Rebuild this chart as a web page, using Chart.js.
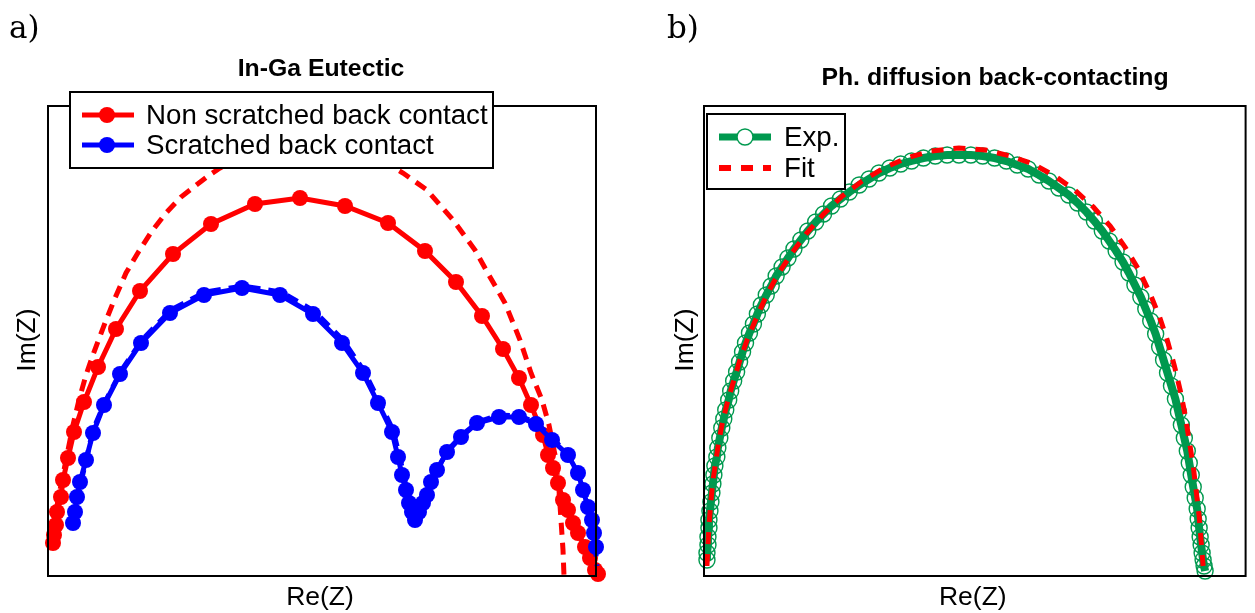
<!DOCTYPE html>
<html>
<head>
<meta charset="utf-8">
<script src="https://cdn.jsdelivr.net/npm/chart.js@4.4.1/dist/chart.umd.min.js"></script>
<style>
  body { margin: 0; background: #fff; width: 1255px; height: 613px; overflow: hidden; }
  canvas { position: absolute; top: 0; }
  #chartA { left: 0; }
  #chartB { left: 640px; }
</style>
</head>
<body>
<canvas id="chartA" width="640" height="613"></canvas>
<canvas id="chartB" width="615" height="613"></canvas>
<script>
// a) In-Ga eutectic, Nyquist plot (arbitrary units, no ticks in the original)
const nonScratchedRe = [5, 6, 8, 9, 13, 15, 20, 26, 36, 50, 68, 92, 125, 163, 207, 252, 297, 340, 377, 408, 434, 455, 471, 483, 495, 500, 505, 510, 515, 520, 525, 530, 537, 542, 547, 550];
const nonScratchedIm = [33, 41, 51, 64, 79, 96, 118, 144, 174, 209, 247, 285, 322, 352, 372, 378, 370, 353, 325, 294, 260, 227, 198, 171, 141, 121, 108, 93, 76, 66, 53, 43, 29, 18, 6, 2];

const nonScratchedFitRe = [2, 6, 10, 15, 20, 25, 31, 38, 46, 57, 67, 78, 91, 104, 118, 133, 147, 160, 172, 197, 227, 257, 287, 317, 340, 355, 379, 405, 427, 442, 457, 472, 483, 494, 501, 507, 511, 513, 515, 516];
const nonScratchedFitIm = [28, 51, 76, 101, 126, 151, 176, 201, 224, 253, 278, 303, 325, 345, 363, 379, 390, 400, 408, 423, 432, 435, 432, 423, 412, 403, 386, 356, 326, 299, 273, 236, 203, 176, 151, 121, 86, 56, 26, 0];

const scratchedRe = [25, 27, 29, 32, 38, 45, 56, 72, 93, 122, 156, 194, 232, 265, 294, 315, 330, 344, 350, 354, 358, 361, 364, 367, 371, 375, 379, 383, 389, 399, 413, 429, 451, 471, 488, 504, 520, 530, 535, 540, 544, 546, 548, 549, 549];
const scratchedIm = [53, 64, 79, 94, 116, 143, 171, 202, 233, 263, 281, 288, 281, 262, 233, 203, 173, 144, 119, 101, 86, 73, 64, 56, 64, 73, 81, 94, 106, 124, 139, 153, 159, 159, 152, 136, 121, 103, 86, 69, 56, 43, 29, 16, 9];

const scratchedFitRe = [26, 34, 45, 57, 73, 94, 123, 157, 195, 233, 266, 295, 316, 331, 345, 352, 358, 363, 367, 372, 380, 390, 400, 414, 430, 451, 472, 489, 505, 521, 531, 541, 546, 549];
const scratchedFitIm = [55, 98, 146, 174, 205, 236, 266, 284, 290, 284, 265, 236, 205, 175, 146, 118, 90, 70, 60, 70, 86, 108, 126, 141, 154, 161, 160, 153, 137, 121, 104, 70, 43, 10];

// b) Ph. diffusion back-contacting
const expRe = [3, 3, 4, 4, 5, 5, 6, 7, 8, 9, 10, 11, 13, 14, 16, 18, 20, 22, 25, 27, 30, 33, 36, 39, 42, 46, 50, 54, 58, 63, 68, 73, 79, 85, 91, 98, 105, 113, 121, 129, 138, 147, 157, 167, 177, 188, 199, 210, 222, 234, 246, 258, 270, 282, 294, 306, 317, 328, 339, 349, 359, 369, 378, 387, 395, 403, 410, 417, 424, 430, 436, 442, 447, 452, 457, 461, 465, 469, 473, 477, 480, 483, 486, 489, 491, 493, 495, 497, 499, 500, 501, 502, 503, 504, 505, 506, 507];
const expIm = [16, 23, 31, 39, 48, 56, 65, 74, 83, 92, 101, 110, 119, 128, 138, 148, 157, 166, 176, 185, 195, 204, 214, 224, 233, 243, 252, 262, 271, 281, 290, 300, 309, 318, 327, 336, 345, 354, 362, 370, 377, 384, 391, 397, 403, 408, 412, 415, 418, 420, 421, 421, 421, 420, 418, 415, 411, 407, 401, 395, 388, 381, 373, 364, 355, 345, 335, 325, 314, 303, 291, 279, 267, 255, 242, 229, 216, 203, 190, 177, 164, 151, 138, 125, 113, 101, 89, 78, 67, 57, 48, 39, 31, 23, 16, 10, 5];

const fitRe = [3, 4, 5, 7, 9, 12, 15, 19, 24, 30, 36, 44, 53, 63, 75, 89, 104, 121, 140, 160, 182, 205, 230, 258, 285, 310, 333, 355, 375, 394, 411, 426, 440, 451, 461, 469, 476, 482, 487, 491, 495, 498, 501, 503, 505];
const fitIm = [10, 30, 50, 75, 95, 115, 135, 155, 175, 195, 215, 237, 258, 280, 302, 323, 343, 362, 380, 395, 408, 418, 425, 428, 426, 420, 412, 400, 386, 369, 350, 329, 306, 283, 259, 235, 210, 185, 160, 135, 110, 85, 60, 35, 10];

const RED = '#ff0000';
const BLUE = '#0000ff';
const GREEN = '#00994f';
const SANS = '"Liberation Sans", Arial, Helvetica, sans-serif';

function pairs(xs, ys) {
  return xs.map((x, i) => ({ x: x, y: ys[i] }));
}

// frame, titles, panel letter, axis names and the legend box are drawn here
const panelDecor = {
  id: 'panelDecor',
  afterDraw(chart, args, opts) {
    const ctx = chart.ctx;
    const area = chart.chartArea;
    ctx.save();

    ctx.strokeStyle = '#000';
    ctx.lineWidth = 2;
    ctx.strokeRect(area.left, area.top, area.right - area.left, area.bottom - area.top);

    ctx.fillStyle = '#000';
    ctx.font = '31px "DejaVu Serif", serif';
    ctx.textAlign = 'left';
    ctx.textBaseline = 'alphabetic';
    ctx.fillText(opts.letter, opts.letterX, 38);

    const midX = (area.left + area.right) / 2;
    ctx.font = 'bold 24.8px ' + SANS;
    ctx.textAlign = 'center';
    ctx.fillText(opts.title, opts.titleX, opts.titleY);

    ctx.font = '26.5px ' + SANS;
    ctx.fillText('Re(Z)', midX - 2, 605);

    ctx.save();
    ctx.translate(opts.imX, 340);
    ctx.rotate(-Math.PI / 2);
    ctx.textBaseline = 'middle';
    ctx.fillText('Im(Z)', 0, 0);
    ctx.restore();

    const lg = opts.legend;
    ctx.fillStyle = '#fff';
    ctx.fillRect(lg.x, lg.y, lg.w, lg.h);
    ctx.lineWidth = 2;
    ctx.strokeStyle = '#000';
    ctx.strokeRect(lg.x, lg.y, lg.w, lg.h);

    lg.items.forEach((item, i) => {
      const y = lg.firstY + i * lg.step;
      ctx.strokeStyle = item.color;
      ctx.lineWidth = item.width;
      ctx.setLineDash(item.dash || []);
      ctx.beginPath();
      ctx.moveTo(lg.x + 12, y);
      ctx.lineTo(lg.x + 64, y);
      ctx.stroke();
      ctx.setLineDash([]);
      if (item.marker === 'filled') {
        ctx.fillStyle = item.color;
        ctx.beginPath();
        ctx.arc(lg.x + 37, y, 8, 0, Math.PI * 2);
        ctx.fill();
      } else if (item.marker === 'open') {
        ctx.fillStyle = '#fff';
        ctx.lineWidth = 1.5;
        ctx.beginPath();
        ctx.arc(lg.x + 38, y, 8, 0, Math.PI * 2);
        ctx.fill();
        ctx.stroke();
      }
      ctx.fillStyle = '#000';
      ctx.font = '27.7px ' + SANS;
      ctx.textAlign = 'left';
      ctx.textBaseline = 'alphabetic';
      ctx.fillText(item.label, lg.textX, y + 9);
    });

    ctx.restore();
  }
};

function baseOptions(pad, decor) {
  return {
    responsive: false,
    animation: false,
    devicePixelRatio: 1,
    layout: { padding: pad },
    scales: {
      x: { type: 'linear', display: false, min: 0, max: 548 },
      y: { type: 'linear', display: false, min: 0, max: 470 }
    },
    plugins: {
      legend: { display: false },
      tooltip: { enabled: false },
      panelDecor: decor
    }
  };
}

new Chart(document.getElementById('chartA'), {
  type: 'scatter',
  plugins: [panelDecor],
  data: {
    datasets: [
      {
        label: 'Scratched back contact',
        data: pairs(scratchedRe, scratchedIm),
        showLine: true,
        borderColor: BLUE,
        backgroundColor: BLUE,
        borderWidth: 5,
        pointRadius: 8,
        pointBorderWidth: 0,
        clip: false,
        order: 1
      },
      {
        label: 'Scratched fit',
        data: pairs(scratchedFitRe, scratchedFitIm),
        showLine: true,
        borderColor: BLUE,
        borderWidth: 5,
        borderDash: [12, 8],
        pointRadius: 0,
        clip: false,
        order: 2
      },
      {
        label: 'Non scratched back contact',
        data: pairs(nonScratchedRe, nonScratchedIm),
        showLine: true,
        borderColor: RED,
        backgroundColor: RED,
        borderWidth: 5,
        pointRadius: 8,
        pointBorderWidth: 0,
        clip: false,
        order: 3
      },
      {
        label: 'Non scratched fit',
        data: pairs(nonScratchedFitRe, nonScratchedFitIm),
        showLine: true,
        borderColor: RED,
        borderWidth: 5,
        borderDash: [12, 8],
        pointRadius: 0,
        clip: false,
        order: 4
      }
    ]
  },
  options: baseOptions({ left: 48, right: 44, top: 106, bottom: 37 }, {
    letter: 'a)',
    letterX: 9,
    title: 'In-Ga Eutectic',
    titleX: 321,
    titleY: 76,
    imX: 28,
    legend: {
      x: 70, y: 92, w: 423, h: 76,
      firstY: 115, step: 30, textX: 146,
      items: [
        { label: 'Non scratched back contact', color: RED, width: 5, marker: 'filled' },
        { label: 'Scratched back contact', color: BLUE, width: 5, marker: 'filled' }
      ]
    }
  })
});

new Chart(document.getElementById('chartB'), {
  type: 'scatter',
  plugins: [panelDecor],
  data: {
    datasets: [
      {
        label: 'Fit',
        data: pairs(fitRe, fitIm),
        showLine: true,
        borderColor: RED,
        borderWidth: 5,
        borderDash: [12, 10],
        pointRadius: 0,
        clip: false,
        order: 1
      },
      {
        label: 'Exp.',
        data: pairs(expRe, expIm),
        showLine: true,
        borderColor: GREEN,
        backgroundColor: 'rgba(0,0,0,0)',
        borderWidth: 8,
        pointRadius: 8,
        pointBorderColor: GREEN,
        pointBorderWidth: 1.4,
        clip: false,
        order: 2
      }
    ]
  },
  options: baseOptions({ left: 64, right: 3, top: 106, bottom: 37 }, {
    letter: 'b)',
    letterX: 27,
    title: 'Ph. diffusion back-contacting',
    titleX: 355,
    titleY: 85,
    imX: 46,
    legend: {
      x: 67, y: 114, w: 138, h: 75,
      firstY: 137, step: 31, textX: 144,
      items: [
        { label: 'Exp.', color: GREEN, width: 7, marker: 'open' },
        { label: 'Fit', color: RED, width: 6, dash: [12, 10] }
      ]
    }
  })
});
</script>
</body>
</html>
